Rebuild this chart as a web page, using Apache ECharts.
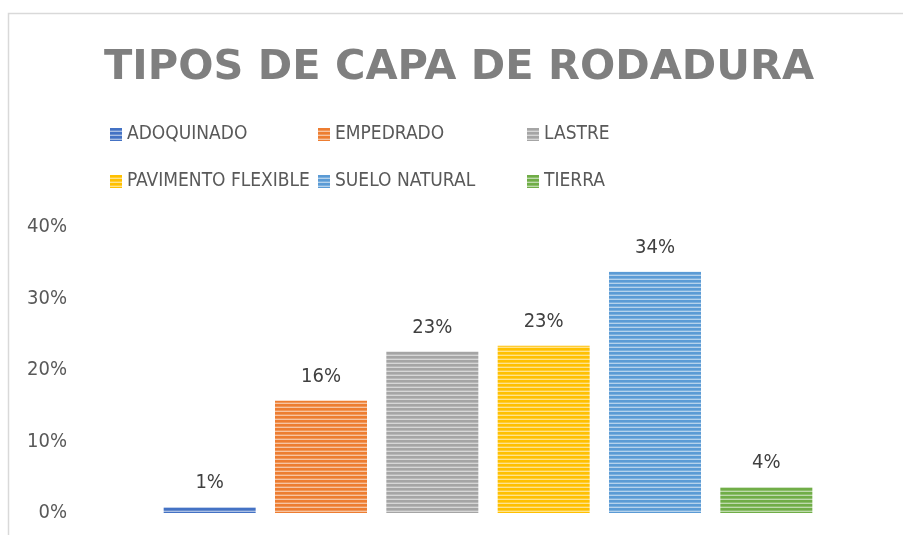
<!DOCTYPE html>
<html>
<head>
<meta charset="utf-8">
<script src="https://cdn.jsdelivr.net/npm/echarts@6/dist/echarts.min.js"></script>
<style>
  html, body { margin: 0; padding: 0; background: #fff; }
  #chart { width: 903px; height: 535px; }
</style>
</head>
<body>
<div id="chart"></div>
<script>
const categories = ["ADOQUINADO", "EMPEDRADO", "LASTRE", "PAVIMENTO FLEXIBLE", "SUELO NATURAL", "TIERRA"];
const values = [0.8, 15.7, 22.6, 23.4, 33.75, 3.6];
const colors = ["#4472C4", "#ED7D31", "#A5A5A5", "#FFC000", "#5B9BD5", "#70AD47"];
const yTicks = [0, 10, 20, 30, 40];

const labelFont = '"Liberation Sans Narrow", "DejaVu Sans Condensed", "Liberation Sans", sans-serif';

// striped fill like the office pattern
function stripes(color) {
  const c = document.createElement("canvas");
  c.width = 4;
  c.height = 4;
  const ctx = c.getContext("2d");
  ctx.fillStyle = color;
  ctx.fillRect(0, 0, 4, 4);
  ctx.fillStyle = "rgba(255,255,255,0.55)";
  ctx.fillRect(0, 3, 4, 1);
  ctx.fillStyle = "rgba(255,255,255,0.2)";
  ctx.fillRect(0, 2, 4, 1);
  return { image: c, repeat: "repeat" };
}

const chart = echarts.init(document.getElementById("chart"));

const series = categories.map((name, i) => ({
  name: name,
  type: "bar",
  stack: "all",
  barWidth: 92,
  itemStyle: { color: stripes(colors[i]) },
  label: {
    show: true,
    position: "top",
    distance: 14,
    color: "#404040",
    fontSize: 20,
    fontFamily: labelFont,
    formatter: p => Math.round(p.value) + "%"
  },
  data: categories.map((c, j) => (j === i ? values[i] : null))
}));

const legendPos = [[110, 125], [318, 125], [527, 125], [110, 172], [318, 172], [527, 172]];
const legends = categories.map((name, i) => ({
  data: [name],
  left: legendPos[i][0],
  top: legendPos[i][1],
  padding: 0,
  icon: "rect",
  itemWidth: 12,
  itemHeight: 13,
  selectedMode: false,
  textStyle: { color: "#595959", fontSize: 19, fontFamily: labelFont }
}));

chart.setOption({
  animation: false,
  title: {
    text: "TIPOS DE CAPA DE RODADURA",
    left: 104,
    top: 47,
    padding: 0,
    textStyle: {
      color: "#7F7F7F",
      fontSize: 41.5,
      fontWeight: "bold",
      fontFamily: '"DejaVu Sans", sans-serif'
    }
  },
  legend: legends,
  grid: { left: 154, right: 81, top: 227, bottom: 22 },
  xAxis: {
    type: "category",
    data: categories,
    axisLine: { show: false },
    axisTick: { show: false },
    axisLabel: { show: false }
  },
  yAxis: {
    type: "value",
    min: yTicks[0],
    max: yTicks[yTicks.length - 1],
    interval: 10,
    splitLine: { show: false },
    axisLine: { show: false },
    axisTick: { show: false },
    axisLabel: {
      margin: 87,
      color: "#595959",
      fontSize: 20,
      fontFamily: labelFont,
      formatter: "{value}%"
    }
  },
  graphic: [{
    type: "rect",
    silent: true,
    shape: { x: 8.5, y: 13.5, width: 1000, height: 700 },
    style: { fill: null, stroke: "#D9D9D9", lineWidth: 1.5 }
  }],
  series: series
});
</script>
</body>
</html>
